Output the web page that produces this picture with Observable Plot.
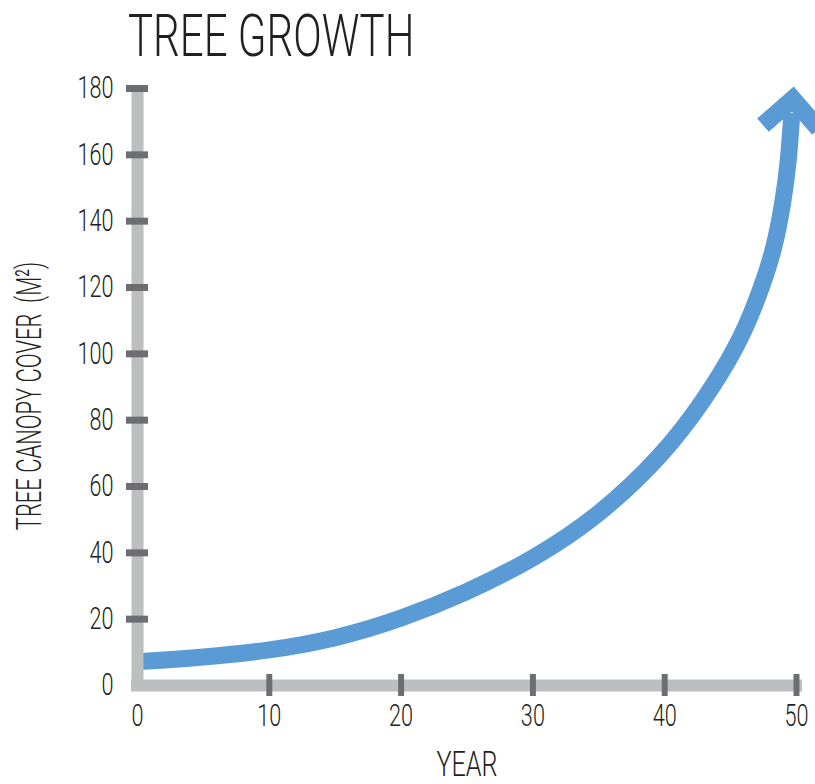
<!DOCTYPE html>
<html><head><meta charset="utf-8">
<script src="https://cdn.jsdelivr.net/npm/d3@7"></script>
<script src="https://cdn.jsdelivr.net/npm/@observablehq/plot@0.6"></script>
<style>
body{margin:0;background:#fff;}
#title{height:70px;position:relative;font-family:Roboto,sans-serif;font-weight:300;font-size:60px;line-height:60px;color:#231f20;}
#title span{position:absolute;left:128px;top:6px;transform:scaleX(0.70);transform-origin:0 0;white-space:nowrap;}
</style></head>
<body>
<div id="title"><span>TREE GROWTH</span></div>
<div id="chart"></div>
<script>
const years  = [0, 5, 10, 15, 20, 25, 30, 35, 40, 43, 45.5, 47.0, 48.3, 49.0, 49.4, 49.65];
const canopy = [7.2, 8.5, 10.5, 14.0, 20.0, 28.0, 38.0, 51.0, 70.0, 86.0, 102.0, 116.0, 131.0, 146.0, 158.0, 172.6];
const xTicks = [0, 10, 20, 30, 40, 50];
const yTicks = [0, 20, 40, 60, 80, 100, 120, 140, 160, 180];
const xLabel = "YEAR";
const yLabel = "TREE CANOPY COVER\u00a0 (M²)";

const blue = "#5b9bd5", gray = "#bcbec0", dark = "#6d6e71", ink = "#231f20";
const data = years.map((x, i) => ({x, y: canopy[i]}));
const x0 = xTicks[0], y0 = yTicks[0];

const plot = Plot.plot({
  width: 815, height: 714,
  marginTop: 18, marginBottom: 99, marginLeft: 137, marginRight: 19,
  x: {domain: [x0, xTicks[xTicks.length - 1]], ticks: xTicks, tickSize: 0, tickPadding: 18,
      label: xLabel, labelAnchor: "center", labelOffset: 90},
  y: {domain: [y0, yTicks[yTicks.length - 1]], ticks: yTicks, tickSize: 0, tickPadding: 24,
      label: yLabel, labelAnchor: "center", labelOffset: 122},
  style: {fontFamily: "Roboto, sans-serif", fontWeight: 300, color: ink, background: "white"},
  marks: [
    Plot.line(data, {x: "x", y: "y", stroke: blue, strokeWidth: 17, curve: "basis", markerEnd: "arrow", strokeLinecap: "butt"}),
    Plot.ruleX([x0], {y1: y0, y2: yTicks[yTicks.length - 1], stroke: gray, strokeWidth: 12}),
    Plot.ruleY([y0], {x1: x0, x2: xTicks[xTicks.length - 1], stroke: gray, strokeWidth: 12, strokeLinecap: "square"}),
    Plot.ruleY(yTicks.filter(d => d > y0), {y: d => d, x1: x0, x2: x0, insetLeft: -11, insetRight: -11, stroke: dark, strokeWidth: 7}),
    Plot.ruleX(xTicks.filter(d => d > x0), {x: d => d, y1: y0, y2: y0, insetTop: -11, insetBottom: -11, stroke: dark, strokeWidth: 6})
  ]
});

// styling tweaks: condensed text, font sizes, arrowhead size
plot.querySelectorAll("marker").forEach(m => {
  m.setAttribute("markerWidth", 5.5);
  m.setAttribute("markerHeight", 5.5);
  m.setAttribute("stroke-width", 1.9);
  m.setAttribute("stroke-linecap", "butt");
  m.setAttribute("stroke-linejoin", "miter");
});
const strip = s => s.replace(/\s*[→↑←↓]\s*/g, "").trim();
plot.querySelectorAll("text").forEach(t => {
  const txt = strip(t.textContent);
  if (txt !== t.textContent) t.textContent = txt;
  const isY = txt === strip(yLabel), isX = txt === xLabel;
  t.setAttribute("font-size", (isX || isY) ? 36 : 31);
  t.setAttribute("fill", ink);
  const s = isY ? 0.61 : 0.7;
  const x = parseFloat(t.getAttribute("x")) || 0;
  const tr = t.getAttribute("transform") || "";
  const shift = isY ? " translate(-9,0)" : "";
  t.setAttribute("transform", `${tr}${shift} translate(${x},0) scale(${s},1) translate(${-x},0)`);
});
document.getElementById("chart").append(plot);
</script>
</body></html>
